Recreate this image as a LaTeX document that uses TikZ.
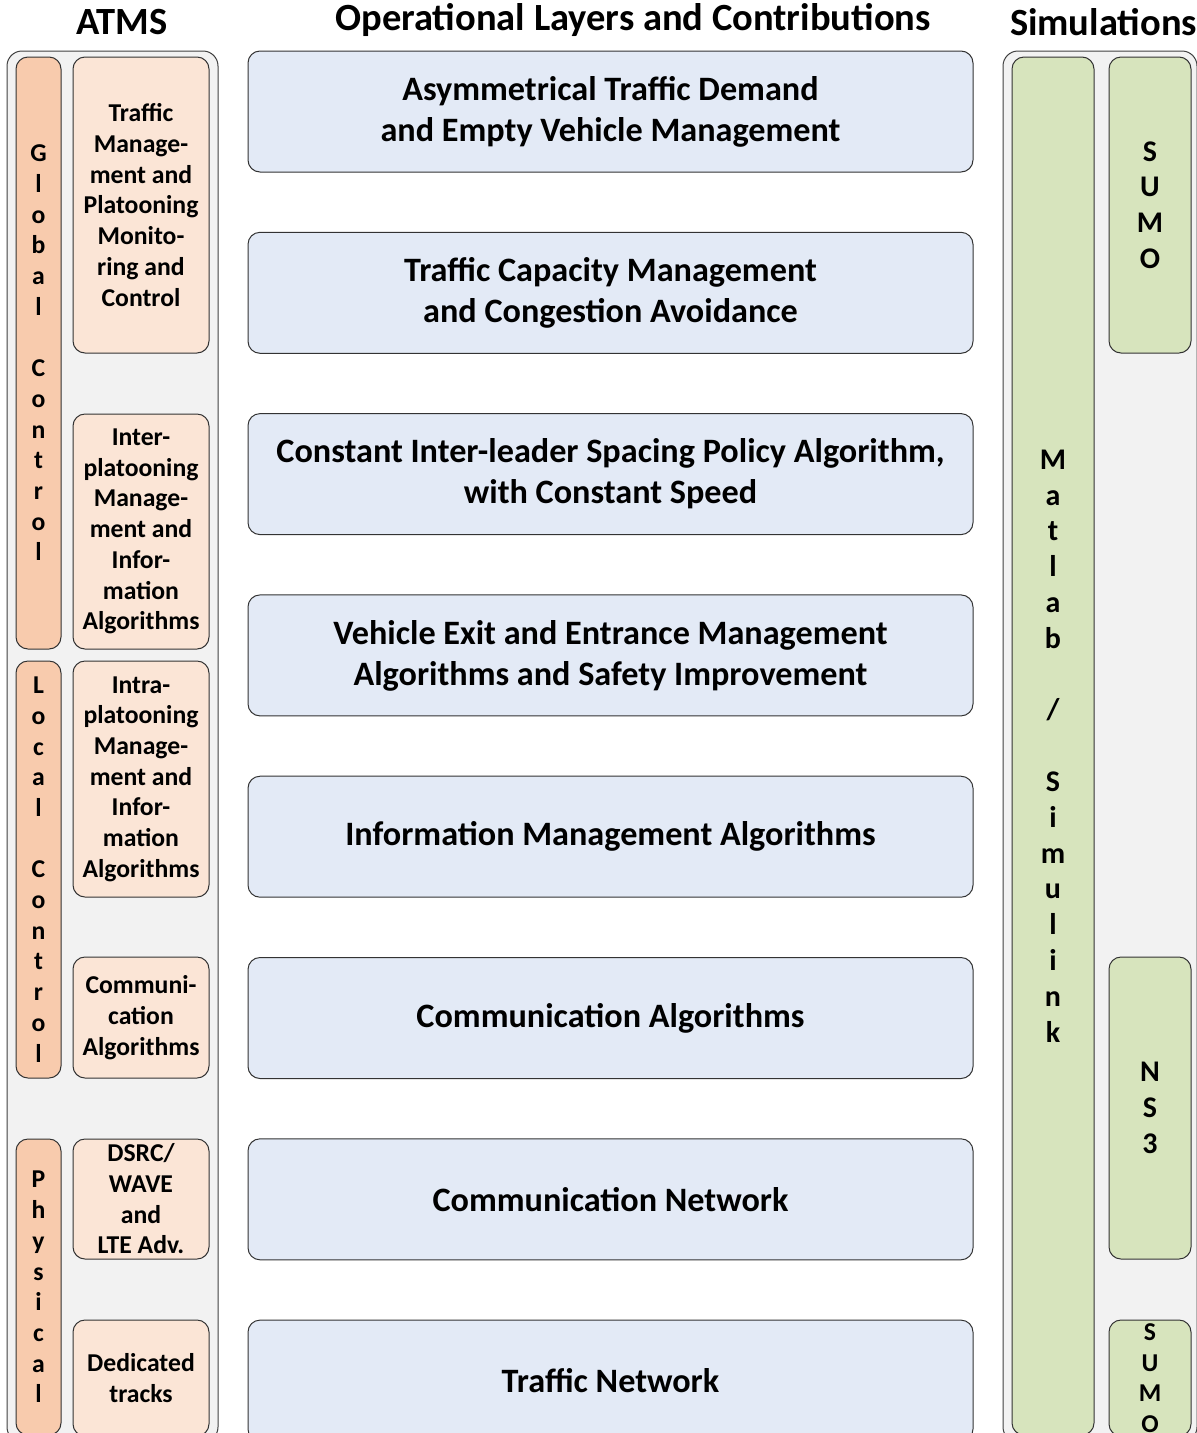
\documentclass[tikz,border=0pt]{standalone}
\usepackage{fontspec}
\setmainfont{Carlito}
\definecolor{layerBlue}{HTML}{E3EAF6}
\definecolor{ctrlOrange}{HTML}{F8CBAD}
\definecolor{atmsPeach}{HTML}{FBE5D6}
\definecolor{simGreen}{HTML}{D7E4BD}
\definecolor{frameGray}{HTML}{F2F2F2}

\begin{document}
\begin{tikzpicture}
[x=1pt,y=-1pt,
  boxContainer/.style={draw=black!75,line width=1pt,fill=frameGray,rounded corners=15pt},%
  nodeTitle/.style={font=\fontsize{38.5}{44}\selectfont\bfseries},%
  nodeLayer/.style={shape=rectangle,rounded corners=12pt,draw=black!80,line width=1pt,
    fill=layerBlue,minimum width=725pt,minimum height=121pt,align=center,
    font=\fontsize{34.2}{41}\selectfont\bfseries},%
  nodeAtms/.style={shape=rectangle,rounded corners=12pt,draw=black!80,line width=1pt,
    fill=atmsPeach,minimum width=136pt,inner sep=0pt,align=center,
    font=\fontsize{25.7}{30.7}\selectfont\bfseries},%
  nodeControl/.style={shape=rectangle,rounded corners=12pt,draw=black!80,line width=1pt,
    fill=ctrlOrange,minimum width=45pt,inner sep=0pt,align=center,
    font=\fontsize{25.7}{30.7}\selectfont\bfseries},%
  nodeSim/.style={shape=rectangle,rounded corners=12pt,draw=black!80,line width=1pt,
    fill=simGreen,minimum width=82pt,inner sep=0pt,align=center,
    font=\fontsize{30}{35.8}\selectfont\bfseries}]
\useasboundingbox (0,0) rectangle (1197,1433);
\clip (0,0) rectangle (1197,1433);
%% titles
\node (titleAtms) at (122,22) [nodeTitle] {ATMS};
\node (titleLayers) at (633,20) [nodeTitle] {Operational Layers and Contributions};
\node (titleSims) at (1103.5,22) [nodeTitle] {Simulations};
%% containers
\draw[boxContainer] (7,51) rectangle (218,1442);
\draw[boxContainer] (1003,51) rectangle (1197,1442);
%% operational layers
\foreach \nodename/\y/\txt in {
  layerDemand/111.5/{Asymmetrical Traffic Demand\\and Empty Vehicle Management},
  layerCapacity/292.8/{Traffic Capacity Management\\and Congestion Avoidance},
  layerSpacing/474.1/{Constant Inter-leader Spacing Policy Algorithm,\\with Constant Speed},
  layerExit/655.4/{Vehicle Exit and Entrance Management\\Algorithms and Safety Improvement},
  layerInfo/836.7/{Information Management Algorithms},
  layerComAlg/1018/{Communication Algorithms},
  layerComNet/1199.3/{Communication Network},
  layerTraffic/1380.6/{Traffic Network}}
{
  \node (\nodename) at (610.5,\y) [nodeLayer] {\txt};
}
%% ATMS column
\node (ctrlGlobal) at (38.5,353) [nodeControl,minimum height=592pt]
  {G\\l\\o\\b\\a\\l\\~\\C\\o\\n\\t\\r\\o\\l};
\node (ctrlLocal) at (38.5,869.5) [nodeControl,minimum height=417pt]
  {L\\o\\c\\a\\l\\~\\C\\o\\n\\t\\r\\o\\l};
\node (ctrlPhysical) at (38.5,1287) [nodeControl,minimum height=296pt]
  {P\\h\\y\\s\\i\\c\\a\\l};
\node (atmsTraffic) at (141,205) [nodeAtms,minimum height=296pt]
  {Traffic\\Manage-\\ment and\\Platooning\\Monito-\\ring and\\Control};
\node (atmsInter) at (141,531.5) [nodeAtms,minimum height=235pt]
  {Inter-\\platooning\\Manage-\\ment and\\Infor-\\mation\\Algorithms};
\node (atmsIntra) at (141,779) [nodeAtms,minimum height=236pt]
  {Intra-\\platooning\\Manage-\\ment and\\Infor-\\mation\\Algorithms};
\node (atmsComm) at (141,1017.5) [nodeAtms,minimum height=121pt]
  {Communi-\\cation\\Algorithms};
\node (atmsRadio) at (141,1199) [nodeAtms,minimum height=120pt]
  {DSRC/\\WAVE\\and\\LTE Adv.};
\node (atmsTracks) at (141,1378) [nodeAtms,minimum height=116pt]
  {Dedicated\\tracks};
%% simulations column
\node (simMatlab) at (1053,746) [nodeSim,minimum height=1378pt]
  {M\\a\\t\\l\\a\\b\\~\\/\\~\\S\\i\\m\\u\\l\\i\\n\\k};
\node (simSumoTop) at (1150,205) [nodeSim,minimum height=296pt]
  {S\\U\\M\\O};
\node (simNsThree) at (1150,1108) [nodeSim,minimum height=302pt]
  {N\\S\\3};
\node (simSumoLow) at (1150,1378) [nodeSim,minimum height=116pt,
  font=\fontsize{25.7}{30.7}\selectfont\bfseries]
  {S\\U\\M\\O};
\end{tikzpicture}
\end{document}
